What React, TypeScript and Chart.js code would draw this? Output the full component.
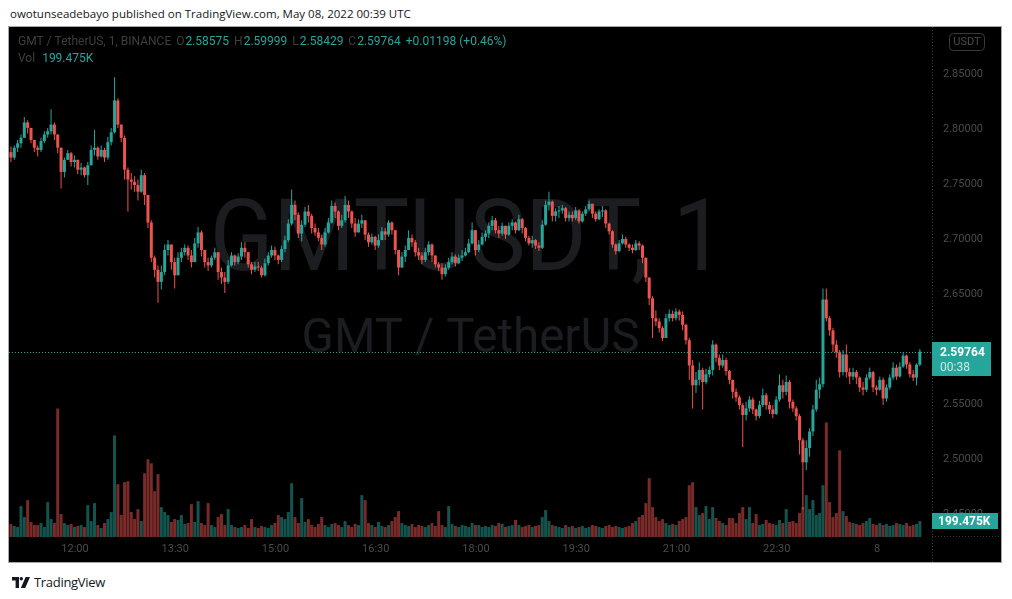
import React, { useEffect, useRef } from "react";
import { Chart, registerables } from "chart.js";

Chart.register(...registerables);

// ---------- data (3-minute candles, GMT / TetherUS) ----------
const BAR_START_MINUTE = -59; // minutes relative to 12:00 (first bar 11:01)
const BAR_MINUTES = 3;
const FIRST_OPEN = 2.779;

const closes = [
  2.774, 2.783, 2.787, 2.792, 2.806, 2.801, 2.790, 2.783, 2.781, 2.789,
  2.795, 2.798, 2.804, 2.795, 2.783, 2.761, 2.772, 2.778, 2.770, 2.772,
  2.763, 2.765, 2.758, 2.767, 2.781, 2.783, 2.775, 2.781, 2.774, 2.788,
  2.797, 2.826, 2.804, 2.792, 2.763, 2.754, 2.752, 2.749, 2.743, 2.758,
  2.740, 2.715, 2.683, 2.672, 2.661, 2.670, 2.690, 2.695, 2.679, 2.667,
  2.683, 2.688, 2.692, 2.685, 2.679, 2.696, 2.706, 2.690, 2.679, 2.676,
  2.683, 2.688, 2.670, 2.665, 2.661, 2.676, 2.685, 2.679, 2.684, 2.692,
  2.688, 2.677, 2.672, 2.675, 2.674, 2.667, 2.678, 2.685, 2.690, 2.685,
  2.681, 2.691, 2.699, 2.714, 2.731, 2.722, 2.705, 2.713, 2.725, 2.721,
  2.710, 2.706, 2.701, 2.695, 2.706, 2.715, 2.730, 2.725, 2.712, 2.717,
  2.731, 2.725, 2.714, 2.706, 2.714, 2.717, 2.704, 2.697, 2.702, 2.694,
  2.699, 2.707, 2.704, 2.715, 2.708, 2.690, 2.674, 2.684, 2.690, 2.701,
  2.697, 2.688, 2.685, 2.681, 2.688, 2.695, 2.685, 2.677, 2.674, 2.668,
  2.674, 2.679, 2.684, 2.678, 2.683, 2.685, 2.688, 2.696, 2.708, 2.690,
  2.695, 2.702, 2.705, 2.712, 2.717, 2.708, 2.705, 2.712, 2.704, 2.712,
  2.715, 2.708, 2.718, 2.710, 2.701, 2.696, 2.699, 2.694, 2.692, 2.713,
  2.731, 2.734, 2.721, 2.725, 2.726, 2.728, 2.719, 2.722, 2.719, 2.726,
  2.716, 2.723, 2.727, 2.732, 2.723, 2.718, 2.725, 2.726, 2.714, 2.707,
  2.695, 2.689, 2.696, 2.700, 2.695, 2.692, 2.690, 2.696, 2.694, 2.683,
  2.665, 2.646, 2.628, 2.625, 2.619, 2.610, 2.628, 2.632, 2.628, 2.634,
  2.631, 2.622, 2.608, 2.585, 2.567, 2.572, 2.581, 2.570, 2.577, 2.581,
  2.604, 2.592, 2.585, 2.590, 2.580, 2.572, 2.561, 2.556, 2.549, 2.540,
  2.546, 2.554, 2.545, 2.539, 2.549, 2.558, 2.549, 2.545, 2.541, 2.554,
  2.567, 2.561, 2.570, 2.552, 2.546, 2.539, 2.517, 2.497, 2.510, 2.525,
  2.545, 2.563, 2.568, 2.645, 2.628, 2.617, 2.604, 2.597, 2.579, 2.595,
  2.579, 2.575, 2.579, 2.574, 2.565, 2.563, 2.574, 2.579, 2.565, 2.563,
  2.572, 2.555, 2.565, 2.574, 2.583, 2.575, 2.584, 2.594, 2.586, 2.577,
  2.574, 2.58575, 2.59764,
];

const highs = [
  2.784, 2.785, 2.790, 2.795, 2.811, 2.808, 2.801, 2.790, 2.785, 2.792,
  2.798, 2.801, 2.818, 2.806, 2.795, 2.783, 2.774, 2.781, 2.779, 2.776,
  2.772, 2.769, 2.766, 2.770, 2.785, 2.799, 2.784, 2.785, 2.783, 2.793,
  2.801, 2.847, 2.828, 2.804, 2.794, 2.765, 2.760, 2.757, 2.754, 2.763,
  2.760, 2.740, 2.717, 2.685, 2.676, 2.676, 2.695, 2.699, 2.695, 2.683,
  2.688, 2.692, 2.695, 2.694, 2.690, 2.701, 2.711, 2.708, 2.690, 2.683,
  2.685, 2.692, 2.688, 2.674, 2.670, 2.681, 2.688, 2.686, 2.687, 2.697,
  2.697, 2.688, 2.679, 2.679, 2.679, 2.676, 2.682, 2.688, 2.694, 2.693,
  2.686, 2.694, 2.703, 2.718, 2.745, 2.735, 2.724, 2.717, 2.729, 2.731,
  2.723, 2.714, 2.710, 2.704, 2.710, 2.719, 2.735, 2.733, 2.726, 2.722,
  2.739, 2.735, 2.726, 2.719, 2.718, 2.722, 2.717, 2.706, 2.705, 2.703,
  2.704, 2.711, 2.710, 2.717, 2.716, 2.708, 2.690, 2.688, 2.694, 2.708,
  2.704, 2.699, 2.692, 2.688, 2.692, 2.698, 2.696, 2.685, 2.679, 2.678,
  2.677, 2.683, 2.688, 2.686, 2.686, 2.690, 2.692, 2.700, 2.715, 2.708,
  2.699, 2.706, 2.708, 2.715, 2.721, 2.719, 2.712, 2.715, 2.712, 2.715,
  2.718, 2.716, 2.722, 2.719, 2.711, 2.703, 2.703, 2.700, 2.697, 2.717,
  2.735, 2.743, 2.735, 2.728, 2.730, 2.731, 2.729, 2.725, 2.725, 2.729,
  2.727, 2.725, 2.730, 2.735, 2.732, 2.725, 2.727, 2.730, 2.727, 2.715,
  2.708, 2.696, 2.699, 2.704, 2.702, 2.696, 2.695, 2.699, 2.698, 2.695,
  2.683, 2.665, 2.648, 2.635, 2.628, 2.621, 2.632, 2.636, 2.635, 2.637,
  2.636, 2.634, 2.623, 2.610, 2.590, 2.579, 2.588, 2.583, 2.582, 2.584,
  2.608, 2.605, 2.595, 2.595, 2.592, 2.581, 2.572, 2.564, 2.558, 2.551,
  2.552, 2.557, 2.556, 2.546, 2.553, 2.564, 2.560, 2.552, 2.549, 2.557,
  2.577, 2.572, 2.576, 2.572, 2.554, 2.548, 2.541, 2.519, 2.517, 2.528,
  2.549, 2.572, 2.574, 2.655, 2.655, 2.630, 2.619, 2.608, 2.599, 2.599,
  2.604, 2.583, 2.583, 2.581, 2.575, 2.570, 2.577, 2.583, 2.580, 2.567,
  2.575, 2.574, 2.568, 2.577, 2.588, 2.586, 2.588, 2.597, 2.595, 2.588,
  2.581, 2.587, 2.59999,
];

const lows = [
  2.770, 2.772, 2.779, 2.783, 2.792, 2.796, 2.787, 2.779, 2.775, 2.779,
  2.787, 2.792, 2.795, 2.790, 2.778, 2.746, 2.756, 2.772, 2.766, 2.765,
  2.759, 2.758, 2.756, 2.749, 2.767, 2.776, 2.772, 2.774, 2.770, 2.772,
  2.785, 2.796, 2.801, 2.788, 2.754, 2.725, 2.745, 2.743, 2.735, 2.742,
  2.731, 2.710, 2.679, 2.665, 2.642, 2.654, 2.667, 2.685, 2.672, 2.655,
  2.667, 2.679, 2.685, 2.681, 2.674, 2.679, 2.692, 2.684, 2.674, 2.671,
  2.674, 2.681, 2.663, 2.659, 2.651, 2.659, 2.675, 2.676, 2.677, 2.681,
  2.683, 2.674, 2.668, 2.670, 2.671, 2.665, 2.666, 2.676, 2.683, 2.681,
  2.677, 2.679, 2.688, 2.697, 2.712, 2.717, 2.701, 2.698, 2.711, 2.715,
  2.705, 2.703, 2.698, 2.690, 2.693, 2.705, 2.714, 2.719, 2.708, 2.710,
  2.715, 2.719, 2.710, 2.702, 2.706, 2.710, 2.699, 2.693, 2.695, 2.690,
  2.692, 2.699, 2.699, 2.702, 2.704, 2.686, 2.667, 2.674, 2.679, 2.690,
  2.693, 2.684, 2.681, 2.677, 2.679, 2.685, 2.679, 2.674, 2.671, 2.663,
  2.666, 2.672, 2.677, 2.675, 2.677, 2.680, 2.684, 2.687, 2.695, 2.685,
  2.688, 2.694, 2.698, 2.701, 2.708, 2.705, 2.701, 2.703, 2.700, 2.703,
  2.708, 2.705, 2.707, 2.705, 2.698, 2.694, 2.692, 2.691, 2.689, 2.691,
  2.712, 2.726, 2.716, 2.716, 2.719, 2.723, 2.716, 2.716, 2.716, 2.717,
  2.714, 2.715, 2.721, 2.725, 2.719, 2.716, 2.717, 2.720, 2.710, 2.704,
  2.692, 2.686, 2.688, 2.695, 2.692, 2.689, 2.687, 2.689, 2.690, 2.678,
  2.661, 2.640, 2.610, 2.621, 2.615, 2.607, 2.610, 2.625, 2.625, 2.626,
  2.626, 2.617, 2.604, 2.572, 2.546, 2.560, 2.567, 2.545, 2.568, 2.574,
  2.576, 2.588, 2.581, 2.583, 2.576, 2.568, 2.555, 2.552, 2.545, 2.511,
  2.535, 2.543, 2.541, 2.535, 2.537, 2.547, 2.545, 2.541, 2.537, 2.540,
  2.552, 2.555, 2.558, 2.546, 2.543, 2.535, 2.504, 2.454, 2.490, 2.502,
  2.521, 2.543, 2.555, 2.565, 2.625, 2.612, 2.597, 2.592, 2.574, 2.576,
  2.574, 2.568, 2.572, 2.568, 2.561, 2.558, 2.561, 2.572, 2.561, 2.558,
  2.562, 2.549, 2.552, 2.563, 2.572, 2.572, 2.574, 2.583, 2.582, 2.574,
  2.571, 2.567, 2.58429,
];

// volume in thousands (K)
const volumesK = [
  163, 138, 125, 388, 250, 463, 188, 150, 150, 175,
  125, 438, 225, 175, 1613, 288, 175, 150, 163, 125,
  138, 150, 125, 400, 200, 425, 150, 113, 175, 225,
  313, 1275, 663, 275, 688, 700, 313, 225, 350, 200,
  800, 975, 925, 575, 788, 375, 313, 275, 188, 225,
  213, 275, 163, 175, 413, 188, 450, 175, 150, 425,
  150, 125, 250, 288, 150, 350, 150, 125, 113, 125,
  150, 113, 225, 125, 113, 138, 125, 113, 150, 175,
  275, 250, 225, 313, 675, 250, 175, 488, 188, 225,
  150, 125, 163, 250, 150, 125, 163, 175, 150, 125,
  200, 150, 125, 163, 150, 525, 463, 175, 150, 125,
  188, 138, 125, 150, 200, 250, 325, 175, 150, 138,
  163, 125, 150, 138, 125, 150, 175, 138, 325, 150,
  125, 388, 163, 138, 125, 150, 138, 125, 175, 150,
  150, 125, 138, 125, 150, 138, 175, 163, 125, 138,
  150, 213, 150, 125, 138, 150, 125, 138, 150, 250,
  338, 200, 150, 138, 125, 113, 150, 125, 138, 113,
  125, 138, 113, 125, 150, 138, 125, 113, 138, 150,
  125, 138, 125, 113, 125, 138, 175, 200, 250, 275,
  425, 738, 375, 250, 200, 225, 175, 150, 163, 150,
  200, 225, 250, 650, 688, 375, 275, 300, 388, 225,
  375, 238, 200, 175, 150, 238, 238, 175, 300, 375,
  225, 375, 175, 288, 150, 163, 213, 175, 163, 150,
  213, 175, 350, 188, 200, 175, 300, 375, 525, 350,
  463, 275, 300, 650, 1438, 438, 250, 300, 1088, 325,
  263, 188, 175, 163, 150, 175, 200, 238, 163, 150,
  175, 150, 163, 138, 150, 175, 163, 150, 175, 138,
  150, 163, 199.475,
];

const priceTicks = [2.45, 2.5, 2.55, 2.6, 2.65, 2.7, 2.75, 2.8, 2.85];
const timeTicks = [0, 90, 180, 270, 360, 450, 540, 630, 720];
const timeTickLabels = ["12:00", "13:30", "15:00", "16:30", "18:00", "19:30", "21:00", "22:30", "8"];

const SYMBOL_TEXT = "GMT / TetherUS, 1, BINANCE";
const WATERMARK_MAIN = "GMTUSDT, 1";
const WATERMARK_SUB = "GMT / TetherUS";
const CHANGE_TEXT = "+0.01198 (+0.46%)";
const COUNTDOWN_TEXT = "00:38";
const CURRENCY_TEXT = "USDT";

// ---------- view ranges / styles ----------
const X_MIN = -59.25;
const X_MAX = 769.4;
const Y_MIN = 2.42909;
const Y_MAX = 2.89273;
const VOL_MAX = 6400;

const UP = "#26a69a";
const DOWN = "#ef5350";
const VOL_UP = "#14544e";
const VOL_DOWN = "#792b29";
const AXIS_TEXT = "#4b4b4b";
const DIM_TEXT = "#3f3f3f";
const WATERMARK_COLOR = "#1c1d21";
const FONT = "Roboto, 'Open Sans', sans-serif";

const opens = closes.map((c, i) => (i === 0 ? FIRST_OPEN : closes[i - 1]));
const xs = closes.map((_, i) => BAR_START_MINUTE + BAR_MINUTES * i + BAR_MINUTES / 2);
const isUp = closes.map((c, i) => c >= opens[i]);

const fmt5 = (v: number) => v.toFixed(5);

function TvLogo() {
  return (
    <svg width="18" height="11" viewBox="0 0 18 11" style={{ display: "block" }}>
      <path d="M0 0 H7 V11 H3.6 V3.4 H0 Z" fill="#131722" />
      <circle cx="9.3" cy="1.7" r="1.7" fill="#131722" />
      <path d="M13.6 0 H18 L13.2 11 H8.8 Z" fill="#131722" />
    </svg>
  );
}

export default function App() {
  const canvasRef = useRef<HTMLCanvasElement | null>(null);

  useEffect(() => {
    const canvas = canvasRef.current;
    if (!canvas) return;

    const n = closes.length;
    const last = n - 1;

    const overlay = {
      id: "tvOverlay",
      beforeDatasetsDraw(chart: any) {
        const { ctx, chartArea } = chart;
        const cx = (chartArea.left + chartArea.right) / 2;
        ctx.save();
        ctx.beginPath();
        ctx.rect(chartArea.left, chartArea.top, chartArea.right - chartArea.left, chartArea.bottom - chartArea.top);
        ctx.clip();
        ctx.fillStyle = WATERMARK_COLOR;
        ctx.textAlign = "center";
        ctx.textBaseline = "alphabetic";
        ctx.save();
        ctx.translate(cx - 3, 243);
        ctx.scale(0.925, 1);
        ctx.font = `400 101px ${FONT}`;
        ctx.fillText(WATERMARK_MAIN, 0, 0);
        ctx.restore();
        ctx.font = `400 47.5px ${FONT}`;
        ctx.fillText(WATERMARK_SUB, cx, 325);
        ctx.restore();
      },
      afterDatasetsDraw(chart: any) {
        const { ctx, chartArea, scales } = chart;
        const yPrice = Math.round(scales.y.getPixelForValue(closes[last])) + 0.5;
        const lastColor = isUp[last] ? UP : DOWN;

        // current price dotted line
        ctx.save();
        ctx.strokeStyle = lastColor;
        ctx.lineWidth = 1;
        ctx.setLineDash([1, 2]);
        ctx.beginPath();
        ctx.moveTo(chartArea.left, yPrice);
        ctx.lineTo(chartArea.right, yPrice);
        ctx.stroke();
        ctx.restore();

        // crosshair (dotted) at the price-scale edge
        ctx.save();
        ctx.strokeStyle = "#3a3a3a";
        ctx.setLineDash([1, 2]);
        ctx.beginPath();
        ctx.moveTo(chartArea.right + 0.5, 0);
        ctx.lineTo(chartArea.right + 0.5, chart.height);
        ctx.moveTo(chartArea.right, chartArea.bottom - 0.5);
        ctx.lineTo(chart.width, chartArea.bottom - 0.5);
        ctx.stroke();
        ctx.restore();

        // legend
        ctx.save();
        ctx.textBaseline = "middle";
        ctx.textAlign = "left";
        ctx.font = `400 12px ${FONT}`;
        const segs: [string, string][] = [
          [SYMBOL_TEXT, DIM_TEXT],
          ["O", DIM_TEXT], [fmt5(opens[last]), UP],
          ["H", DIM_TEXT], [fmt5(highs[last]), UP],
          ["L", DIM_TEXT], [fmt5(lows[last]), UP],
          ["C", DIM_TEXT], [fmt5(closes[last]), UP],
          [CHANGE_TEXT, UP],
        ];
        let x = 9;
        segs.forEach(([t, c]) => {
          ctx.fillStyle = c;
          ctx.fillText(t, x, 14.5);
          x += ctx.measureText(t).width;
          const isLetter = t.length === 1;
          x += isLetter ? 1 : 5;
        });
        ctx.fillStyle = DIM_TEXT;
        ctx.fillText("Vol", 9, 31.5);
        ctx.fillStyle = UP;
        ctx.fillText(`${volumesK[last]}K`, 9 + ctx.measureText("Vol").width + 7, 31.5);
        ctx.restore();

        // currency box
        ctx.save();
        ctx.strokeStyle = "#3a3a3a";
        ctx.lineWidth = 1;
        ctx.beginPath();
        (ctx as any).roundRect(940.5, 6.5, 35, 17, 4);
        ctx.stroke();
        ctx.fillStyle = "#4b4b4b";
        ctx.font = `400 11px ${FONT}`;
        ctx.textAlign = "center";
        ctx.textBaseline = "middle";
        ctx.fillText(CURRENCY_TEXT, 958, 15.5);
        ctx.restore();

        // last price label
        ctx.save();
        const bx = chartArea.right;
        ctx.fillStyle = lastColor;
        ctx.fillRect(bx, yPrice - 10.5, 59, 34);
        ctx.textAlign = "left";
        ctx.textBaseline = "middle";
        ctx.fillStyle = "#ffffff";
        ctx.font = `700 12px ${FONT}`;
        ctx.fillText(fmt5(closes[last]), bx + 8, yPrice + 0.5);
        ctx.fillStyle = "#c8ebe7";
        ctx.font = `400 12px ${FONT}`;
        ctx.fillText(COUNTDOWN_TEXT, bx + 8, yPrice + 15);
        ctx.restore();

        // last volume label
        ctx.save();
        const yVolPix = Math.round(scales.yVol.getPixelForValue(volumesK[last]));
        ctx.fillStyle = lastColor;
        ctx.fillRect(bx, yVolPix - 8, 66, 16);
        ctx.fillStyle = "#ffffff";
        ctx.font = `700 12px ${FONT}`;
        ctx.textAlign = "left";
        ctx.textBaseline = "middle";
        ctx.fillText(`${volumesK[last]}K`, bx + 6, yVolPix + 0.5);
        ctx.restore();
      },
    };

    const chart = new Chart(canvas, {
      type: "bar",
      data: {
        datasets: [
          {
            label: "Volume",
            data: xs.map((x, i) => ({ x, y: volumesK[i] })) as any,
            yAxisID: "yVol",
            backgroundColor: isUp.map((u) => (u ? VOL_UP : VOL_DOWN)),
            barThickness: 3,
            grouped: false,
            inflateAmount: 0,
            order: 3,
          } as any,
          {
            label: "Wicks",
            data: xs.map((x, i) => ({
              x,
              y: [Math.min(lows[i], opens[i], closes[i]), Math.max(highs[i], opens[i], closes[i])],
            })) as any,
            yAxisID: "y",
            backgroundColor: isUp.map((u) => (u ? UP : DOWN)),
            barThickness: 1,
            grouped: false,
            inflateAmount: 0,
            order: 2,
          } as any,
          {
            label: "Bodies",
            data: xs.map((x, i) => ({ x, y: [opens[i], closes[i]] })) as any,
            yAxisID: "y",
            backgroundColor: isUp.map((u) => (u ? UP : DOWN)),
            barThickness: 3,
            minBarLength: 1,
            grouped: false,
            inflateAmount: 0,
            order: 1,
          } as any,
        ],
      },
      options: {
        responsive: false,
        animation: false,
        devicePixelRatio: 1,
        events: [],
        layout: { padding: 0, autoPadding: false },
        plugins: { legend: { display: false }, tooltip: { enabled: false } },
        scales: {
          x: {
            type: "linear",
            min: X_MIN,
            max: X_MAX,
            offset: false,
            grid: { display: false, drawTicks: false },
            border: { display: false },
            afterBuildTicks: (s: any) => {
              s.ticks = timeTicks.map((v) => ({ value: v }));
            },
            afterFit: (s: any) => {
              s.height = 25;
              s.paddingLeft = 0;
              s.paddingRight = 0;
            },
            ticks: {
              autoSkip: false,
              maxRotation: 0,
              padding: 6,
              color: AXIS_TEXT,
              font: { family: FONT, size: 11 },
              callback: (v: any) => {
                const k = timeTicks.indexOf(Number(v));
                return k >= 0 ? timeTickLabels[k] : "";
              },
            },
          },
          y: {
            type: "linear",
            position: "right",
            min: Y_MIN,
            max: Y_MAX,
            grid: { display: false, drawTicks: false },
            border: { display: false },
            afterBuildTicks: (s: any) => {
              s.ticks = priceTicks.map((v) => ({ value: v }));
            },
            afterFit: (s: any) => {
              s.width = 69;
              s.paddingTop = 0;
              s.paddingBottom = 0;
            },
            ticks: {
              padding: 11,
              color: AXIS_TEXT,
              font: { family: FONT, size: 11 },
              callback: (v: any) => fmt5(Number(v)),
            },
          },
          yVol: {
            type: "linear",
            display: false,
            min: 0,
            max: VOL_MAX,
          },
        },
      } as any,
      plugins: [overlay],
    });

    return () => chart.destroy();
  }, []);

  return (
    <div style={{ position: "relative", width: 996, height: 583 }}>
      <div
        style={{
          position: "absolute",
          left: 2,
          top: -1,
          fontFamily: "'Open Sans', sans-serif",
          fontSize: 11.5,
          lineHeight: "14px",
          color: "#131722",
          whiteSpace: "nowrap",
        }}
      >
        owotunseadebayo published on TradingView.com, May 08, 2022 00:39 UTC
      </div>
      <div
        style={{
          position: "absolute",
          left: 0,
          top: 18,
          width: 994,
          height: 537,
          boxSizing: "border-box",
          border: "1px solid #a3a6af",
          background: "#000000",
        }}
      >
        <canvas ref={canvasRef} width={992} height={535} style={{ display: "block" }} />
      </div>
      <div
        style={{
          position: "absolute",
          left: 4,
          top: 566,
          height: 16,
          display: "flex",
          alignItems: "center",
          gap: 4,
          fontFamily: "'Open Sans', sans-serif",
          fontSize: 13,
          color: "#131722",
          whiteSpace: "nowrap",
        }}
      >
        <TvLogo />
        <span style={{ letterSpacing: "-0.3px" }}>TradingView</span>
      </div>
    </div>
  );
}
